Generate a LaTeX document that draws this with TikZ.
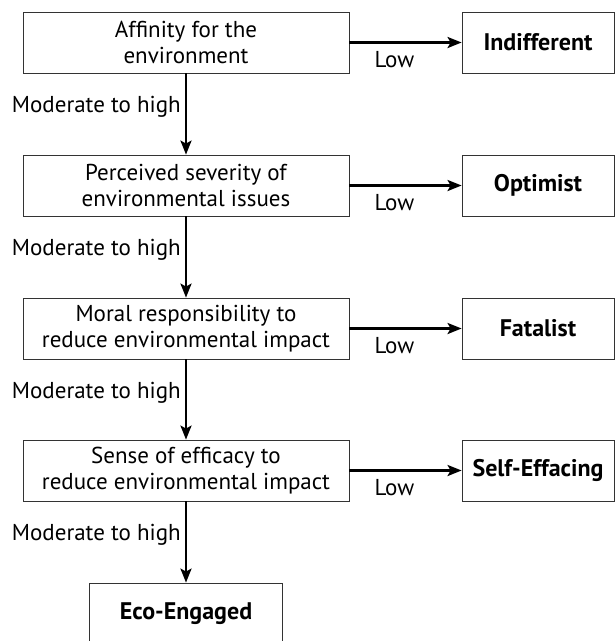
\documentclass[tikz,border=0pt]{standalone}
\usepackage{fontspec}
\setmainfont{PT Sans}
\usetikzlibrary{arrows.meta}
\begin{document}
\begin{tikzpicture}[x=1pt,y=-1pt,
  qbox/.style={draw=black!80,line width=0.8pt,minimum height=61pt,align=center,font=\fontsize{23}{26}\selectfont,inner sep=0pt},
  lbox/.style={qbox,minimum width=326pt},
  tbox/.style={qbox,font=\fontsize{24}{28}\selectfont\bfseries},
  flow/.style={line width=2.6pt,-{Stealth[length=14pt,width=11pt,inset=3pt]}},
  lab/.style={font=\fontsize{23}{26}\selectfont,inner sep=0pt}]
\useasboundingbox (0,0) rectangle (616,641);
\clip (0,0) rectangle (616,641);
\node[lbox] (q1) at (186,42.5) {Affinity for the\\environment};
\node[lbox] (q2) at (186,185.5) {Perceived severity of\\environmental issues};
\node[lbox] (q3) at (186,328.5) {Moral responsibility to\\reduce environmental impact};
\node[lbox] (q4) at (186,470.5) {Sense of efficacy to\\reduce environmental impact};
\node[tbox,minimum width=152pt] (t1) at (538,42.5) {Indifferent};
\node[tbox,minimum width=152pt] (t2) at (538,185.5) {Optimist};
\node[tbox,minimum width=152pt] (t3) at (538,328.5) {Fatalist};
\node[tbox,minimum width=152pt] (t4) at (538,470.5) {Self-Effacing};
\node[tbox,minimum width=193pt] (t5) at (186,613.5) {Eco-Engaged};
\foreach \a/\b in {q1/t1,q2/t2,q3/t3,q4/t4}{
  \draw[flow] (\a.east) -- (\b.west);
  \node[lab,anchor=center] at ([xshift=45pt,yshift=-17pt]\a.east) {Low};
}
\foreach \a/\b in {q1/q2,q2/q3,q3/q4,q4/t5}{
  \draw[flow] (\a.south) -- (\b.north);
  \node[lab,anchor=east] at ([xshift=-5pt,yshift=-33pt]\a.south) {Moderate to high};
}
\end{tikzpicture}
\end{document}
